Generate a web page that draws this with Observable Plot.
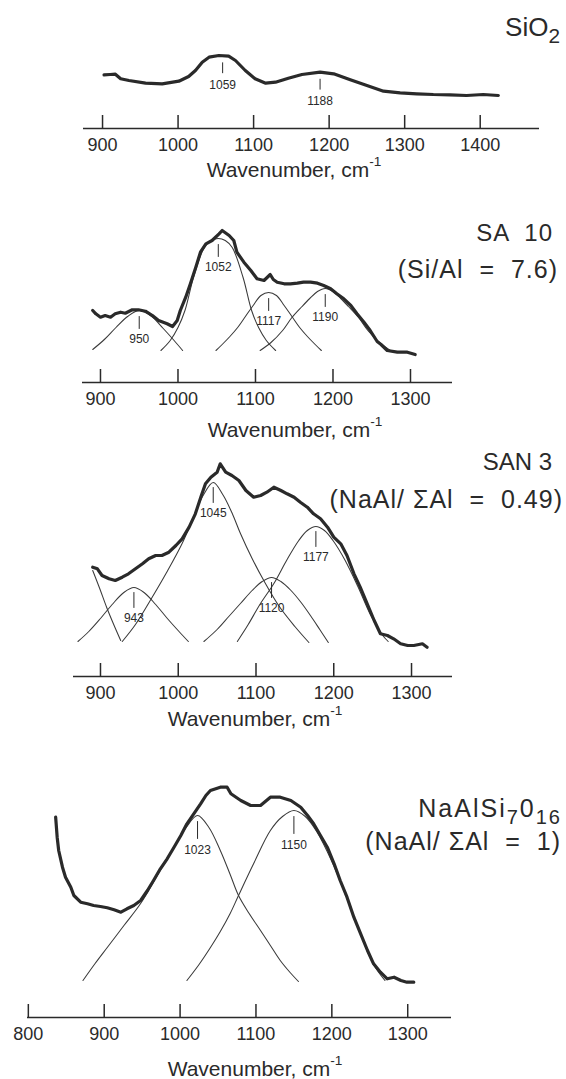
<!DOCTYPE html>
<html>
<head>
<meta charset="utf-8">
<script src="https://cdn.jsdelivr.net/npm/d3@7"></script>
<script src="https://cdn.jsdelivr.net/npm/@observablehq/plot@0.6"></script>
<style>
  body { margin: 0; background: #fff; }
  #fig { position: relative; width: 566px; height: 1079px; overflow: hidden;
         font-family: "Liberation Sans", Arial, Helvetica, sans-serif; color: #2a2a2a; }
  .lbl { position: absolute; line-height: 1; white-space: pre; }
  .wide { letter-spacing: 1px; }
  .wider { letter-spacing: 2px; }
  .panel { position: absolute; left: 0; }
  .sub { position: relative; font-size: 0.8em; top: 0.36em; }
  .sup { position: relative; font-size: 0.65em; top: -0.8em; }
</style>
</head>
<body>
<div id="fig"></div>
<script>
// Raman spectra, intensity in arbitrary units above each axis line
const sio2Spectrum = [[902,53.7],[910,54],[917,54.3],[924,49.7],[935,48],[957,45.3],[979,44.7],[1001,47.3],[1014,52],[1023,58],[1032,66.3],[1041,71.3],[1054,73],[1067,72.3],[1076,68],[1089,58],[1102,49.7],[1116,45.3],[1129,46.3],[1146,50.3],[1164,54],[1188,56.3],[1206,54.7],[1228,48.7],[1250,43],[1272,37.3],[1294,35.7],[1316,34.7],[1338,34],[1360,33.7],[1382,33],[1404,34],[1424,33]];
const sio2Peaks = [1059, 1188];

const sa10Spectrum = [[890,72],[894,68.7],[900,65.3],[906,67],[913,65.3],[919,68.7],[926,70.3],[932,69.3],[941,72.7],[949,72.7],[958,71.3],[967,67],[975,62],[986,58.7],[993,56],[999,62],[1003,72],[1010,85.3],[1016,98.7],[1023,115.3],[1029,130.3],[1036,138.7],[1044,142],[1053,148.7],[1057,152],[1066,147],[1072,142],[1076,130.3],[1085,120.3],[1094,112],[1102,103.7],[1111,102],[1119,108],[1123,103],[1128,100.3],[1137,98.7],[1145,98.7],[1154,99.3],[1162,100.3],[1171,100.3],[1180,99.3],[1188,97],[1197,93.7],[1205,88.7],[1214,83.7],[1223,77],[1231,68.7],[1240,60.3],[1248,52],[1257,41],[1262,38],[1270,32],[1283,30.3],[1296,30.3],[1306,28]];
const sa10Band950 = [[890,33],[905,43],[920,55],[935,66],[950,72],[966,66],[981,54],[995,42],[1006,32]];
const sa10Band1052 = [[978,32],[990,42],[1000,55],[1009,72],[1020,105],[1034,135],[1043,142],[1052,144],[1061,142],[1070,135],[1084,105],[1095,72],[1104,55],[1114,42],[1126,32]];
const sa10Band1117 = [[1049,32],[1057,38],[1067,46],[1077,55],[1087,66],[1097,77],[1107,87],[1117,90],[1127,87],[1137,77],[1147,66],[1157,55],[1167,46],[1177,38],[1185,32]];
const sa10Band1190 = [[1106,32],[1120,40],[1135,52],[1147,65],[1160,76],[1170,84],[1180,91],[1190,94],[1200,91],[1210,84],[1220,76],[1233,65],[1245,52],[1260,40],[1274,32]];
const sa10Peaks = [950, 1052, 1117, 1190];

const san3Spectrum = [[890,109.3],[896,107.7],[902,101],[911,97.7],[919,96],[928,99.3],[936,102.7],[945,107.7],[954,112.7],[962,117.7],[971,121],[979,121],[988,124.3],[997,131],[1005,137.7],[1014,149.3],[1022,162.7],[1029,179.3],[1035,192.7],[1042,199.3],[1050,204.3],[1054,212.7],[1061,204.3],[1069,201],[1078,196],[1087,186],[1097,179.3],[1106,181],[1114,184.3],[1123,189.3],[1132,186],[1140,182.7],[1149,179.3],[1157,174.3],[1166,169.3],[1174,162.7],[1183,157.7],[1192,149.3],[1200,139.3],[1209,132.7],[1217,121],[1226,102.7],[1234,89.3],[1243,72.7],[1252,56],[1260,42.7],[1269,41],[1277,37.7],[1286,32.7],[1295,31],[1303,31],[1314,32.7],[1320,29.3]];
const san3BandEdge = [[890,106],[899,88],[908,69],[917,52],[926,36]];
const san3Band943 = [[871,35],[885,45],[900,58],[915,72],[930,84],[943,89],[956,84],[971,72],[986,58],[1001,45],[1013,35]];
const san3Band1045 = [[928,35],[945,52],[964,76],[985,104],[1005,133],[1020,160],[1032,181],[1045,194],[1058,181],[1070,162],[1080,143],[1095,118],[1110,96],[1130,70],[1150,50],[1168,34]];
const san3Band1120 = [[1033,35],[1050,47],[1065,60],[1080,73],[1095,86],[1108,95],[1120,99],[1132,95],[1145,86],[1158,74],[1170,61],[1182,47],[1193,34]];
const san3Band1177 = [[1076,35],[1090,52],[1105,72],[1123,93],[1140,117],[1155,136],[1166,146],[1177,150],[1188,146],[1199,136],[1214,117],[1231,90],[1247,62],[1262,42],[1270,35]];
const san3Peaks = [943, 1045, 1120, 1177];

const naalsiSpectrum = [[836,200.3],[838,180.3],[840,167],[845,150.3],[849,140.3],[856,130.3],[860,122],[869,115.3],[878,113.7],[886,112],[895,111],[904,109.7],[913,107.7],[922,105.3],[930,108.7],[939,112],[948,117],[957,127],[965,137],[974,148.7],[983,158.7],[992,170.3],[1001,182],[1009,193.7],[1018,203.7],[1027,213.7],[1034,222],[1040,227],[1053,230.3],[1062,230.3],[1067,223.7],[1080,217],[1093,212],[1106,212],[1119,220.3],[1132,220.3],[1146,217],[1159,210.3],[1168,202],[1176,193.7],[1185,182],[1194,170.3],[1203,153.7],[1211,137],[1220,120.3],[1229,100.3],[1238,83.7],[1247,67],[1255,53.7],[1264,45.3],[1273,38.7],[1282,40.3],[1291,37],[1299,35.3],[1308,35.3]];
const naalsiBand1023 = [[872,37],[888,54],[904,70],[926,92],[948,114],[970,142],[990,168],[1008,190],[1023,202],[1038,190],[1053,167],[1066,143],[1077,122],[1091,104],[1106,87],[1119,72],[1132,57],[1145,45],[1156,36]];
const naalsiBand1150 = [[1009,37],[1025,53],[1040,70],[1053,86],[1066,104],[1077,122],[1097,154],[1119,187],[1135,201],[1150,207],[1165,201],[1180,186],[1200,156],[1220,119],[1238,83],[1255,53],[1270,37]];
const naalsiPeaks = [1023, 1150];

const ticks900to1400 = [900, 1000, 1100, 1200, 1300, 1400];
const ticks900to1300 = [900, 1000, 1100, 1200, 1300];
const ticks800to1300 = [800, 900, 1000, 1100, 1200, 1300];

const ink = "#2a2a2a";
const fig = document.getElementById("fig");
const px = d => d[0], py = d => d[1];
// short vertical stroke hanging below a band maximum
const tickMark = {draw(context, l) { context.moveTo(0, 0); context.lineTo(0, -l); }};

function panel({spectrum, bands = [], extraBands = [], peaks, peakLevel, ticks, xDomain, left, right, top, axisY, marks: [t0, tLen, tText]}) {
  const frameH = axisY - top;
  const bottom = 32;
  const peakData = peaks.map((w, i) => ({w, I: peakLevel(w, i), label: String(w)}));
  const chart = Plot.plot({
    width: 566,
    height: frameH + bottom,
    marginLeft: left,
    marginRight: 566 - right,
    marginTop: 0,
    marginBottom: bottom,
    x: {domain: xDomain},
    y: {domain: [0, frameH], axis: null},
    style: {fontFamily: '"Liberation Sans", Arial, sans-serif', fontSize: "18px", color: ink, background: "transparent", overflow: "visible"},
    marks: [
      Plot.ruleY([0], {stroke: ink, strokeWidth: 1.6}),
      Plot.axisX({ticks, tickSize: -13, tickPadding: 22.5, tickFormat: d => String(d), fontSize: 18, strokeWidth: 1.5, label: null}),
      ...bands.concat(extraBands).map(b => Plot.line(b, {x: px, y: py, curve: "catmull-rom", stroke: "#3a3a3a", strokeWidth: 1.05})),
      Plot.line(spectrum, {x: px, y: py, stroke: ink, strokeWidth: 3.2, strokeLinejoin: "round"}),
      Plot.vector(peakData, {x: "w", y: "I", length: tLen, rotate: 180, anchor: "start", dy: t0, shape: tickMark, stroke: ink, strokeWidth: 1}),
      Plot.text(peakData, {x: "w", y: "I", text: "label", dy: tText, fontSize: 12, lineAnchor: "middle", fill: ink})
    ]
  });
  chart.classList.add("panel");
  chart.style.top = top + "px";
  fig.appendChild(chart);
}

function label(html, {right, center, baseline, size, cls = ""}) {
  const el = document.createElement("div");
  el.className = "lbl " + cls;
  el.innerHTML = html;
  el.style.fontSize = size + "px";
  el.style.top = (baseline - 0.8465 * size) + "px";
  if (right != null) { el.style.right = (566 - right) + "px"; el.style.textAlign = "right"; }
  else { el.style.left = center + "px"; el.style.transform = "translateX(-50%)"; }
  fig.appendChild(el);
}

const bandMax = bands => (w, i) => d3.max(bands[i], py);
const along = s => { const f = d3.scaleLinear().domain(s.map(px)).range(s.map(py)); return w => f(w); };

panel({spectrum: sio2Spectrum, peaks: sio2Peaks, peakLevel: along(sio2Spectrum),
  ticks: ticks900to1400, xDomain: [874.8, 1478.5], left: 83, right: 539, top: 0, axisY: 128, marks: [7, 10, 29]});

const sa10Bands = [sa10Band950, sa10Band1052, sa10Band1117, sa10Band1190];
panel({spectrum: sa10Spectrum, bands: sa10Bands, peaks: sa10Peaks, peakLevel: bandMax(sa10Bands),
  ticks: ticks900to1300, xDomain: [876.8, 1354.2], left: 82, right: 452, top: 190, axisY: 382, marks: [6, 12, 29]});

const san3Bands = [san3Band943, san3Band1045, san3Band1120, san3Band1177];
panel({spectrum: san3Spectrum, bands: san3Bands, extraBands: [san3BandEdge], peaks: san3Peaks, peakLevel: bandMax(san3Bands),
  ticks: ticks900to1300, xDomain: [865.3, 1352.7], left: 73, right: 452, top: 440, axisY: 676, marks: [5, 15, 31]});

const naalsiBands = [naalsiBand1023, naalsiBand1150];
panel({spectrum: naalsiSpectrum, bands: naalsiBands, peaks: naalsiPeaks, peakLevel: bandMax(naalsiBands),
  ticks: ticks800to1300, xDomain: [798.9, 1357.7], left: 27, right: 451, top: 760, axisY: 1017, marks: [6, 17, 35]});

const axisTitle = 'Wavenumber, cm<span class="sup">-1</span>';
label(axisTitle, {center: 294, baseline: 177, size: 21});
label(axisTitle, {center: 295, baseline: 437, size: 21});
label(axisTitle, {center: 255, baseline: 726, size: 21});
label(axisTitle, {center: 255, baseline: 1076, size: 21});

label('SiO<span class="sub">2</span>', {right: 560, baseline: 36, size: 26});
label('SA  10', {right: 553, baseline: 241.5, size: 24, cls: "wide"});
label('(Si/Al  =  7.6)', {right: 558, baseline: 278, size: 25, cls: "wide"});
label('SAN 3', {right: 552, baseline: 470, size: 24});
label('(NaAl/ ΣAl  =  0.49)', {right: 563, baseline: 508, size: 25, cls: "wide"});
label('NaAlSi<span class="sub">7</span>0<span class="sub">16</span>', {right: 562, baseline: 817, size: 25, cls: "wider"});
label('(NaAl/ ΣAl  =  1)', {right: 561, baseline: 850, size: 25, cls: "wide"});
</script>
</body>
</html>
